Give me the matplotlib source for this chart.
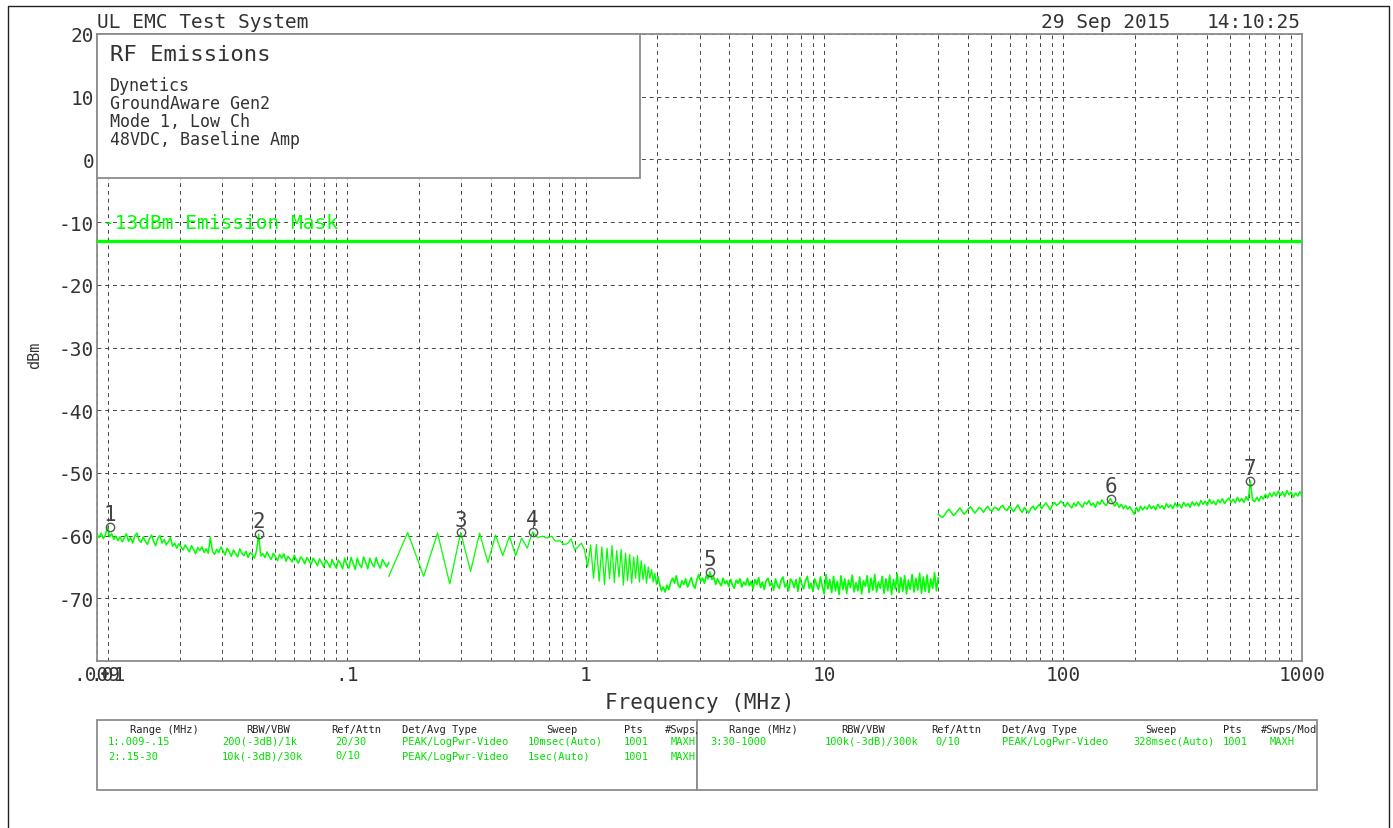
import numpy as np
import matplotlib
matplotlib.use('Agg')
import matplotlib.pyplot as plt
from matplotlib.patches import Rectangle
from matplotlib.ticker import FixedLocator, NullFormatter

plt.rcParams['font.family'] = ['DejaVu Sans Mono', 'DejaVu Sans']

# ---- data ----
# range 1: .009-.15 MHz, readings taken at even steps along the log axis
sweep1_range = [0.009, 0.15]
sweep1_dbm = [
    -59.8, -60.3, -59.6, -60.5, -59.9, -58.6, -60.2, -59.7, -60.6, -60.1,
    -60.8, -60.2, -61.0, -60.4, -59.7, -60.9, -60.3, -61.2, -60.0, -59.6,
    -60.7, -61.1, -60.2, -60.9, -61.4, -60.5, -59.9, -61.0, -61.6, -60.4,
    -60.0, -61.2, -60.6, -61.5, -61.0, -60.3, -61.7, -61.2, -62.0, -61.3,
    -61.8, -62.3, -61.5, -62.0, -62.6, -61.6, -62.2, -62.9, -61.9, -62.4,
    -61.8, -62.7, -62.1, -62.8, -60.3, -62.5, -63.0, -62.2, -62.7, -61.8,
    -62.4, -63.1, -62.0, -62.6, -63.3, -62.3, -62.9, -63.4, -62.1, -62.8,
    -63.2, -62.5, -63.5, -62.7, -63.0, -63.6, -62.4, -59.8, -63.2, -62.9,
    -63.5, -62.6, -63.3, -63.8, -62.8, -63.4, -64.0, -63.0, -63.6, -62.9,
    -64.1, -63.3, -63.7, -64.2, -63.1, -63.9, -64.4, -63.4, -63.8, -64.5,
    -63.5, -64.0, -64.6, -63.6, -64.2, -64.8, -63.7, -64.3, -65.0, -63.9,
    -64.4, -65.1, -63.8, -64.6, -65.2, -63.9, -64.5, -65.3, -63.6, -64.7,
    -65.2, -63.5, -64.4, -65.4, -63.6, -64.6, -65.1, -63.4, -64.3, -65.3,
    -63.6, -64.5, -65.0, -63.5, -64.6, -65.2, -63.8, -64.4, -65.0, -64.3,
]

# range 2, lower part: each sweep point is visible (start .15 MHz, step .03 MHz)
sweep2_start = 0.15
sweep2_step = 0.03
sweep2_lo_dbm = [
    -66.5, -59.5, -66.5, -59.6, -67.7, -59.5, -65.7, -59.6, -64.3, -59.9,
    -63.2, -60.1, -63.2, -60.4, -62.0, -59.4, -60.3, -60.1, -60.4, -60.1,
    -60.9, -60.8, -61.4, -61.3, -60.5, -62.3, -61.8, -61.2, -62.3, -65.0,
    -61.5, -66.8, -61.4, -67.3, -61.8, -67.8, -62.0, -66.9, -61.6, -67.5,
    -62.4, -66.6, -62.2, -67.9, -62.8, -67.2, -63.0, -67.6, -63.4, -66.8,
    -63.2, -67.4, -64.0, -67.0, -64.6, -67.6, -65.0, -66.8, -65.4, -67.4,
    -66.0, -67.8, -66.6,
]
# range 2, upper part: 2.04-30 MHz, readings at even steps along the log axis
sweep2_hi_range = [2.04, 30]
sweep2_hi_dbm = [
    -67.6, -68.8, -68.2, -69.0, -67.9, -68.6, -67.4,
    -66.8, -67.6, -66.4, -67.9, -68.3, -67.2, -67.8, -66.9, -68.2, -67.5,
    -66.7, -67.9, -68.4, -67.0, -66.2, -67.3, -66.8, -67.6, -66.4, -66.9,
    -65.8,
    -67.0, -66.6, -67.8, -66.9, -67.5, -68.0, -66.8, -67.7, -67.2, -68.1,
    -67.0, -67.9, -68.4, -67.1, -67.6, -66.9, -68.2, -67.4, -67.9, -66.8,
    -68.0, -67.3, -68.5, -67.0, -67.8, -66.7, -68.3, -67.4, -68.6, -67.2,
    -66.8, -68.0, -67.5, -68.7, -66.9, -67.9, -68.4, -67.1, -66.6, -68.2,
    -67.6, -68.8, -66.9, -67.4, -68.3, -67.0, -68.9, -66.7, -67.7, -68.5,
    -67.2, -66.5, -68.4, -67.6, -68.9, -66.9, -67.8, -68.6, -66.6, -68.1,
    -69.3, -66.2, -68.5, -67.0, -69.1, -66.5, -68.8, -67.3, -69.4, -66.4,
    -68.6, -66.9, -69.2, -67.1, -68.3, -66.3, -69.0, -67.5, -68.8, -66.6,
    -69.3, -67.2, -68.1, -66.4, -69.1, -66.8, -68.7, -66.2, -69.0, -67.4,
    -68.4, -66.5, -69.2, -66.9, -68.8, -66.3, -69.4, -67.0, -68.5, -66.1,
    -69.1, -66.7, -68.9, -66.4, -69.3, -67.1, -68.6, -66.2, -69.0, -66.8,
    -68.7, -66.0, -69.2, -66.6, -68.9, -66.3, -69.1, -66.9, -68.4, -65.9,
    -68.8, -66.7,
]

# range 3: 30-1000 MHz
sweep3_range = [30, 1000]
sweep3_dbm = [
    -56.6, -56.9, -57.1, -56.7, -56.1, -55.8, -56.3, -56.8, -56.5, -56.0,
    -55.6, -56.1, -56.6, -56.2, -55.7, -55.4, -55.9, -56.4, -56.0, -55.5,
    -55.8, -56.3, -55.7, -55.3, -55.9, -56.1, -55.5, -55.6, -56.0, -55.4,
    -55.2, -55.8, -56.0, -55.3, -55.7, -56.2, -55.6, -55.1, -55.9, -56.3,
    -55.5, -56.0, -56.4, -55.7, -55.3, -55.9, -55.4, -55.0, -55.7, -55.2,
    -54.8, -55.3, -55.9, -55.1, -54.7, -55.2, -54.9, -54.5,
    -54.9, -55.4, -54.7, -55.2, -55.6, -54.8, -55.3, -54.6, -55.1, -55.5,
    -54.7, -55.0, -54.4, -55.2, -54.8, -55.5, -54.6, -55.0, -54.3, -54.9,
    -55.2, -54.6, -54.1, -54.8, -55.3, -54.7, -55.5, -55.0, -55.7, -55.2,
    -55.8, -55.4, -56.0, -56.6, -55.5, -56.2, -55.3, -55.9, -55.4, -55.8,
    -55.1, -55.7, -55.3, -55.9, -55.0, -55.6, -55.2, -55.8, -54.9, -55.5,
    -55.1, -55.7, -54.8, -55.4, -55.0, -55.6, -54.7, -55.3, -54.9, -55.5,
    -54.6, -55.2, -54.7, -55.3, -54.4, -55.0, -54.5, -55.2, -54.2, -54.9,
    -54.5, -55.1, -54.3, -54.8, -54.1, -54.9, -54.4, -54.0, -54.7, -54.2,
    -54.8, -53.9, -54.6, -54.1, -54.7, -53.8, -54.4,
    -51.3,
    -54.3, -54.6, -53.9, -54.5, -53.7, -54.2, -53.4, -54.0, -53.2, -53.8,
    -53.1, -53.7, -52.9, -53.6, -53.0, -53.8, -52.8, -53.5, -53.1, -53.9,
    -53.2, -53.7, -53.0, -53.6,
]

mask_dbm = -13
mask_label = '-13dBm Emission Mask'

marker_ids = ['1', '2', '3', '4', '5', '6', '7']
marker_mhz = [0.0102, 0.0428, 0.30, 0.60, 3.32, 158, 608]
marker_dbm = [-58.6, -59.8, -59.5, -59.4, -65.8, -54.1, -51.3]

xtick_mhz = [0.009, 0.01, 0.1, 1, 10, 100, 1000]
xtick_labels = ['.009', '.01', '.1', '1', '10', '100', '1000']
ytick_dbm = [-70, -60, -50, -40, -30, -20, -10, 0, 10, 20]

info_title = 'RF Emissions'
info_lines = ['Dynetics', 'GroundAware Gen2', 'Mode 1, Low Ch', '48VDC, Baseline Amp']

tbl_header = ['Range (MHz)', 'RBW/VBW', 'Ref/Attn', 'Det/Avg Type', 'Sweep', 'Pts', '#Swps/Mode']
tbl_range1 = ['1:.009-.15', '200(-3dB)/1k', '20/30', 'PEAK/LogPwr-Video', '10msec(Auto)', '1001', 'MAXH']
tbl_range2 = ['2:.15-30', '10k(-3dB)/30k', '0/10', 'PEAK/LogPwr-Video', '1sec(Auto)', '1001', 'MAXH']
tbl_range3 = ['3:30-1000', '100k(-3dB)/300k', '0/10', 'PEAK/LogPwr-Video', '328msec(Auto)', '1001', 'MAXH']

# ---- figure ----
W, H = 1393, 829
fig = plt.figure(figsize=(W / 100, H / 100), dpi=100)
fig.patch.set_facecolor('white')

ax_l, ax_r, ax_t, ax_b = 97, 1302, 35, 662
ax = fig.add_axes([ax_l / W, 1 - ax_b / H, (ax_r - ax_l) / W, (ax_b - ax_t) / H])

trace = '#00ff00'
f1 = np.geomspace(sweep1_range[0], sweep1_range[1], len(sweep1_dbm))
f2a = sweep2_start + sweep2_step * np.arange(len(sweep2_lo_dbm))
f2b = np.geomspace(sweep2_hi_range[0], sweep2_hi_range[1], len(sweep2_hi_dbm))
f3 = np.geomspace(sweep3_range[0], sweep3_range[1], len(sweep3_dbm))

ax.plot(f1, sweep1_dbm, color=trace, lw=1.1, zorder=3)
ax.plot(f2a, sweep2_lo_dbm, color=trace, lw=0.9, zorder=3)
ax.plot(np.concatenate([f2a[-1:], f2b]), sweep2_lo_dbm[-1:] + sweep2_hi_dbm, color=trace, lw=1.2, zorder=3)
ax.plot(f3, sweep3_dbm, color=trace, lw=1.1, zorder=3)

ax.axhline(mask_dbm, color=trace, lw=2.4, zorder=3)
ax.annotate(mask_label, xy=(0.005, -10), xycoords=('axes fraction', 'data'),
            color=trace, fontsize=14, va='center', ha='left', zorder=4)

ax.plot(marker_mhz, marker_dbm, 'o', ms=6, mfc='none', mec='#555555', mew=1.0, zorder=5)
for lab, fx, fy in zip(marker_ids, marker_mhz, marker_dbm):
    ax.annotate(lab, xy=(fx, fy), xytext=(0, 5), textcoords='offset points',
                ha='center', va='baseline', fontsize=15, color='#444444', zorder=5)

ax.set_xscale('log')
ax.set_xlim(0.009, 1000)
ax.set_ylim(-80, 20)
ax.xaxis.set_major_locator(FixedLocator(xtick_mhz))
ax.set_xticklabels(xtick_labels)
minor = [k * 10.0 ** e for e in range(-2, 3) for k in range(1, 10)]
ax.xaxis.set_minor_locator(FixedLocator(minor))
ax.xaxis.set_minor_formatter(NullFormatter())
ax.set_yticks(ytick_dbm)
ax.set_yticklabels([str(v) for v in ytick_dbm])
ax.tick_params(which='both', length=0, labelsize=14, labelcolor='#333333')
ax.tick_params(axis='x', pad=3)
ax.tick_params(axis='y', pad=2)
ax.grid(which='both', color='#444444', lw=0.7, linestyle=(0, (4, 4)))
ax.set_axisbelow(True)
for s in ax.spines.values():
    s.set_color('#8c8c8c')
    s.set_linewidth(1.3)
ax.set_xlabel('Frequency (MHz)', fontsize=15, color='#333333', labelpad=6)

# ---- overlay in pixel coordinates for frame, header, info box and table ----
ov = fig.add_axes([0, 0, 1, 1], zorder=5)
ov.set_xlim(0, W)
ov.set_ylim(H, 0)
ov.axis('off')

ov.plot([7.5, 7.5, 1389, 1389], [H + 5, 7, 7, H + 5], color='#222222', lw=1, clip_on=False)

ov.text(97, 22, 'UL EMC Test System', fontsize=14, color='#333333', ha='left', va='center')
ov.text(1041, 22, '29 Sep 2015', fontsize=14, color='#333333', ha='left', va='center')
ov.text(1301, 22, '14:10:25', fontsize=14, color='#333333', ha='right', va='center')
ov.text(35, 355, 'dBm', fontsize=11, color='#333333', rotation=90, ha='center', va='center')

ov.add_patch(Rectangle((97, 35), 543, 144, facecolor='white', edgecolor='#8c8c8c', lw=1.3))
ov.text(110, 55, info_title, fontsize=16, color='#333333', ha='left', va='center')
for i, line in enumerate(info_lines):
    ov.text(110, 86 + 18 * i, line, fontsize=12, color='#333333', ha='left', va='center')

# settings table
left_box = Rectangle((97, 721), 600, 70, facecolor='white', edgecolor='#8c8c8c', lw=1.3)
right_box = Rectangle((697, 721), 620, 70, facecolor='white', edgecolor='#8c8c8c', lw=1.3)
ov.add_patch(left_box)
ov.add_patch(right_box)
tgreen = '#00e000'
panels = [
    (left_box, [130, 246, 331, 402, 546, 624, 665], [108, 222, 335, 402, 528, 624, 671], [tbl_range1, tbl_range2]),
    (right_box, [729, 841, 931, 1002, 1145, 1223, 1261], [710, 825, 935, 1002, 1133, 1223, 1270], [tbl_range3]),
]
for box, hx, rx, rows in panels:
    for txt, x in zip(tbl_header, hx):
        t = ov.text(x, 730, txt, fontsize=7.5, color='#222222', ha='left', va='center', clip_on=True)
        t.set_clip_path(box)
    for r, row in enumerate(rows):
        for txt, x in zip(row, rx):
            t = ov.text(x, 742 + 14.5 * r, txt, fontsize=7.5, color=tgreen, ha='left', va='center', clip_on=True)
            t.set_clip_path(box)

fig.savefig('out.png', dpi=100)
